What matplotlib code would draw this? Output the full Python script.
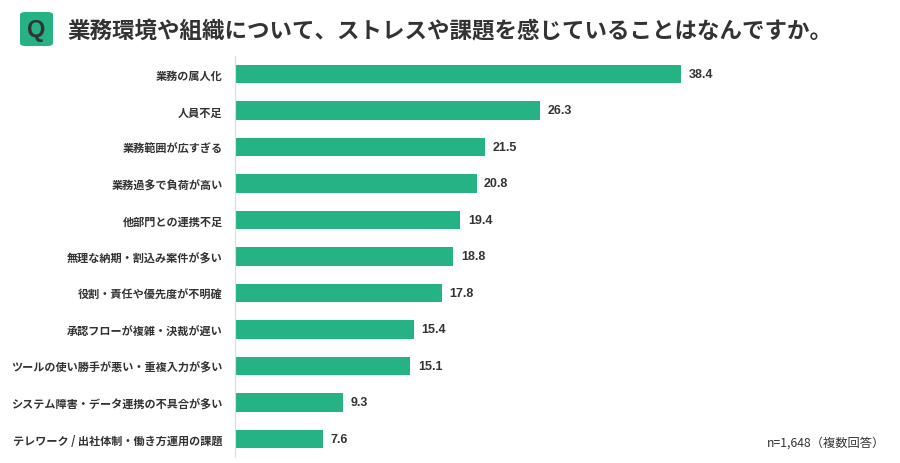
import matplotlib
matplotlib.use("Agg")
import matplotlib.pyplot as plt
from matplotlib.patches import FancyBboxPatch

plt.rcParams["font.family"] = ["Noto Sans CJK JP", "DejaVu Sans"]

# data
categories = [
    "業務の属人化",
    "人員不足",
    "業務範囲が広すぎる",
    "業務過多で負荷が高い",
    "他部門との連携不足",
    "無理な納期・割込み案件が多い",
    "役割・責任や優先度が不明確",
    "承認フローが複雑・決裁が遅い",
    "ツールの使い勝手が悪い・重複入力が多い",
    "システム障害・データ連携の不具合が多い",
    "テレワーク / 出社体制・働き方運用の課題",
]
values = [38.4, 26.3, 21.5, 20.8, 19.4, 18.8, 17.8, 15.4, 15.1, 9.3, 7.6]

title = "業務環境や組織について、ストレスや課題を感じていることはなんですか。"
note = "n=1,648（複数回答）"

GREEN = "#25b386"
TEXT = "#333333"

W, H = 900, 464
fig = plt.figure(figsize=(W / 100, H / 100), dpi=100)

# axes placed in pixel coordinates
left, right = 235, 815.6
top, bottom = 56.75, 458.25
ax = fig.add_axes([left / W, 1 - bottom / H, (right - left) / W, (bottom - top) / H])

y = list(range(len(categories)))
ax.barh(y, values, height=0.5, color=GREEN, zorder=2)
ax.set_xlim(0, 50)
ax.set_ylim(len(categories) - 0.5, -0.5)

for yi, v in zip(y, values):
    ax.text(v + 0.65, yi, f"{v:.1f}", va="center", ha="left",
            fontsize=9, fontweight="bold", color=TEXT,
            family=["Liberation Sans", "DejaVu Sans"])

ax.set_yticks(y)
ax.set_yticklabels(categories, fontsize=8.0, fontweight="bold", color=TEXT)
ax.tick_params(axis="y", length=0, pad=9)
ax.set_xticks([])

for s in ["top", "right", "bottom"]:
    ax.spines[s].set_visible(False)
ax.spines["left"].set_color("#dddddd")
ax.spines["left"].set_linewidth(0.8)

# Q badge
badge = FancyBboxPatch((20 / W, 1 - 47 / H), 33 / W, 34 / H,
                       boxstyle="round,pad=0,rounding_size=0.006",
                       transform=fig.transFigure, facecolor=GREEN,
                       edgecolor="none")
fig.patches.append(badge)
fig.text(36.5 / W, 1 - 30.5 / H, "Q", ha="center", va="center",
         fontsize=17, fontweight="bold", color=TEXT,
         family=["Liberation Sans", "DejaVu Sans"])

fig.text(67 / W, 1 - 31 / H, title, ha="left", va="center",
         fontsize=16.2, fontweight="bold", color=TEXT)

fig.text(885 / W, 1 - 443 / H, note, ha="right", va="center",
         fontsize=8.8, color=TEXT)

fig.savefig("out.png", dpi=100)
